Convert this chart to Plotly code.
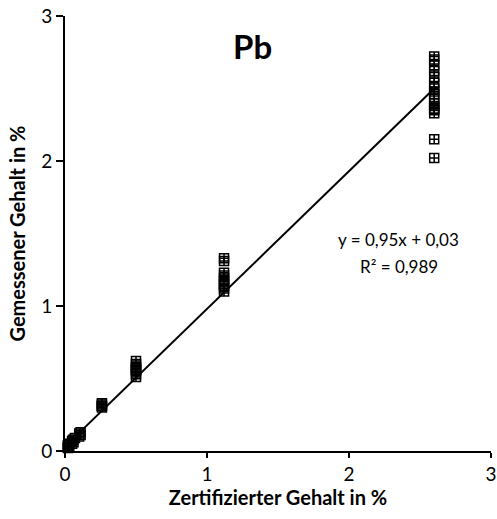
import plotly.graph_objects as go
import numpy as np

# certified content (x) and measured content (y), in %
cert_x = [0.02, 0.02, 0.02, 0.03, 0.03,
          0.05, 0.05, 0.06, 0.06, 0.07,
          0.10, 0.10, 0.11, 0.11,
          0.26, 0.26, 0.26, 0.26, 0.26,
          0.50, 0.50, 0.50, 0.50, 0.50, 0.50, 0.50, 0.50,
          1.12, 1.12, 1.12, 1.12, 1.12, 1.12, 1.12, 1.12, 1.12, 1.12,
          2.60, 2.60, 2.60, 2.60, 2.60, 2.60, 2.60, 2.60, 2.60, 2.60,
          2.60, 2.60, 2.60, 2.60, 2.60, 2.60, 2.60]
meas_y = [0.02, 0.03, 0.04, 0.03, 0.05,
          0.05, 0.07, 0.06, 0.08, 0.09,
          0.10, 0.12, 0.11, 0.13,
          0.30, 0.31, 0.32, 0.33, 0.31,
          0.51, 0.53, 0.55, 0.56, 0.57, 0.58, 0.60, 0.62,
          1.10, 1.12, 1.14, 1.15, 1.17, 1.19, 1.21, 1.23, 1.31, 1.33,
          2.02, 2.15, 2.33, 2.36, 2.38, 2.40, 2.43, 2.46, 2.50, 2.54,
          2.58, 2.62, 2.66, 2.70, 2.72, 2.35, 2.48]

slope = 0.95
intercept = 0.03
eq_text = "y = 0,95x + 0,03"
r2_text = "R² = 0,989"
title_text = "Pb"
x_title = "Zertifizierter Gehalt in %"
y_title = "Gemessener Gehalt in %"
tick_vals = [0, 1, 2, 3]

font_family = "Lato, Open Sans, sans-serif"

line_x = np.array([0.0, max(cert_x)])
line_y = slope * line_x + intercept

fig = go.Figure()
fig.add_trace(go.Scatter(
    x=cert_x, y=meas_y, mode="markers",
    marker=dict(symbol="square-cross-open", size=9, color="black",
                line=dict(width=1.5, color="black")),
    showlegend=False, hoverinfo="skip", cliponaxis=False))
fig.add_trace(go.Scatter(
    x=line_x, y=line_y, mode="lines",
    line=dict(color="black", width=2),
    showlegend=False, hoverinfo="skip"))

fig.add_annotation(xref="x", yref="y", x=1.32, y=2.79, text="<b>" + title_text + "</b>",
                   showarrow=False, font=dict(size=33, color="black", family=font_family),
                   yanchor="middle")
fig.add_annotation(xref="x", yref="y", x=2.35, y=1.46, text=eq_text,
                   showarrow=False, font=dict(size=17, color="black", family=font_family),
                   yanchor="middle")
fig.add_annotation(xref="x", yref="y", x=2.35, y=1.27, text=r2_text,
                   showarrow=False, font=dict(size=17, color="black", family=font_family),
                   yanchor="middle")

axis_common = dict(
    range=[0, 3], tickvals=tick_vals, ticks="outside",
    showline=True, linecolor="black", linewidth=2,
    tickcolor="black", tickwidth=2,
    showgrid=False, zeroline=False, automargin=False,
    tickfont=dict(size=19, color="black", family=font_family),
)

fig.update_layout(
    width=497, height=519,
    margin=dict(l=65, r=6, t=16, b=68),
    paper_bgcolor="white", plot_bgcolor="white",
    xaxis=dict(**axis_common, ticklen=5,
               title=dict(text="<b>" + x_title + "</b>", standoff=6,
                          font=dict(size=20, color="black", family=font_family))),
    yaxis=dict(**axis_common, ticklen=7,
               title=dict(text="<b>" + y_title + "</b>", standoff=10,
                          font=dict(size=20, color="black", family=font_family))),
)

fig.write_html("out.html")
